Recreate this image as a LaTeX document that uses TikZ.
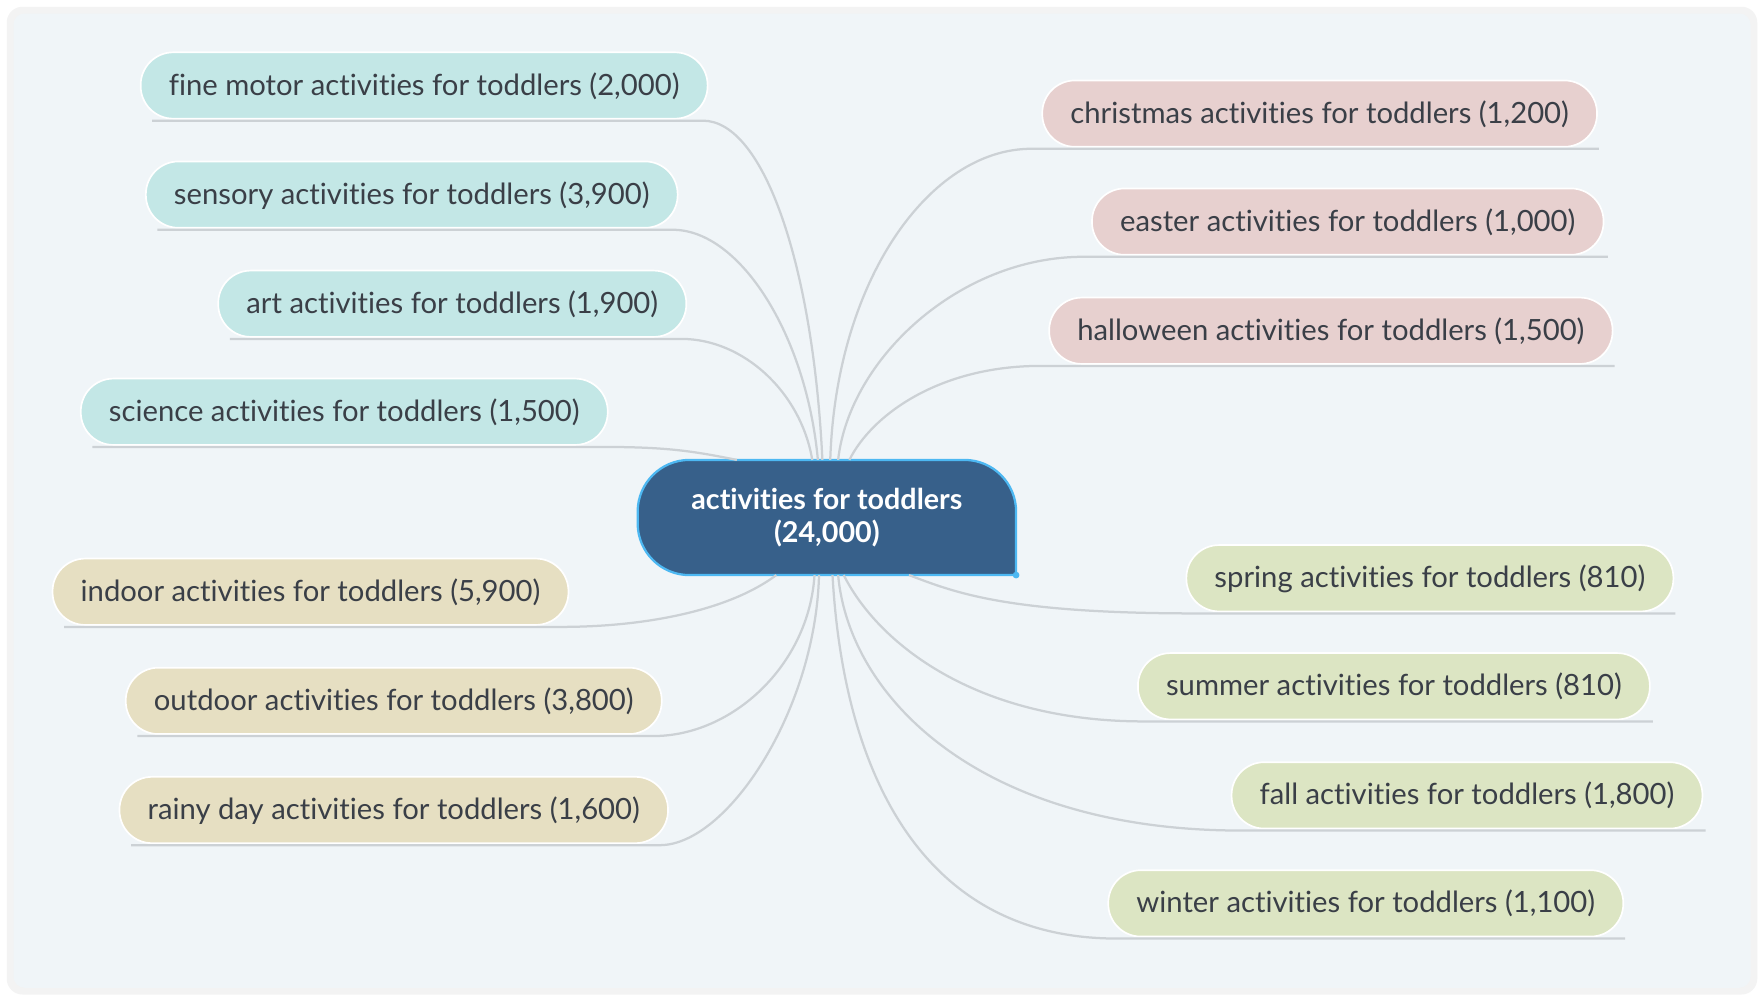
\documentclass[tikz,border=0pt]{standalone}
\usepackage{fontspec}
\setmainfont{Lato}[Ligatures={NoCommon,NoContextual}]
\usepackage{xcolor}
\usetikzlibrary{positioning,backgrounds}
\definecolor{panelbg}{RGB}{240,245,248}
\definecolor{shadowgrey}{RGB}{243,243,243}
\definecolor{tealpill}{RGB}{195,231,230}
\definecolor{pinkpill}{RGB}{231,208,207}
\definecolor{beigepill}{RGB}{230,223,194}
\definecolor{greenpill}{RGB}{220,229,195}
\definecolor{rootblue}{RGB}{55,96,138}
\definecolor{rootedge}{RGB}{77,184,242}
\definecolor{textgrey}{RGB}{58,63,71}
\definecolor{linegrey}{RGB}{204,209,213}
\tikzset{
  % branch pill
  pill/.style={
    draw=white,
    line width=1.5pt,
    rounded corners=29pt,
    minimum height=59pt,
    inner xsep=25pt,
    text height=21pt,
    text depth=4pt,
    font=\fontsize{26}{30}\selectfont,
    text=textgrey
  },
  % four colour groups
  teal/.style={pill, fill=tealpill},
  pink/.style={pill, fill=pinkpill},
  beige/.style={pill, fill=beigepill},
  green/.style={pill, fill=greenpill},
  % central topic
  root/.style={
    minimum width=336pt,
    minimum height=102pt,
    align=center,
    text=white,
    font=\fontsize{25.5}{30}\selectfont\bfseries
  },
  % connector
  link/.style={draw=linegrey, line width=2pt},
}

\begin{document}
\begin{tikzpicture}[x=1pt,y=-1pt]
  \useasboundingbox (0,0) rectangle (1568,894);
  \begin{scope}[on background layer]
    \fill[white] (0,0) rectangle (1568,894);
    \fill[shadowgrey, rounded corners=14pt] (6,6) rectangle (1562,884);
    \fill[panelbg, rounded corners=10pt] (12,12) rectangle (1556,878);
  \end{scope}

  % central topic
  \node[root] (root) at (735,460) {activities for toddlers\\(24,000)};
  \begin{scope}[on background layer]
    \path[fill=rootblue, draw=rootedge, line width=2pt, rounded corners=46pt]
      (root.south east) -- (root.north east) -- (root.north west)
      -- (root.south west) -- (root.south east);
    \fill[rootedge] (root.south east) circle (3pt);
  \end{scope}

  % left branches
  \node[teal] (fine) at (377,76) {fine motor activities for toddlers (2,000)};
  \node[teal] (sensory) at (366,173) {sensory activities for toddlers (3,900)};
  \node[teal] (art) at (402,270) {art activities for toddlers (1,900)};
  \node[teal] (science) at (306,366) {science activities for toddlers (1,500)};
  \node[beige] (indoor) at (276,526) {indoor activities for toddlers (5,900)};
  \node[beige] (outdoor) at (350,623) {outdoor activities for toddlers (3,800)};
  \node[beige] (rainy) at (350,720) {rainy day activities for toddlers (1,600)};

  % right branches
  \node[pink] (christmas) at (1173,101) {christmas activities for toddlers (1,200)};
  \node[pink] (easter) at (1198,197) {easter activities for toddlers (1,000)};
  \node[pink] (halloween) at (1183,294) {halloween activities for toddlers (1,500)};
  \node[green] (spring) at (1271,514) {spring activities for toddlers (810)};
  \node[green] (summer) at (1239,610) {summer activities for toddlers (810)};
  \node[green] (fall) at (1304,707) {fall activities for toddlers (1,800)};
  \node[green] (winter) at (1214,803) {winter activities for toddlers (1,100)};

  % connectors, left
  \draw[link] ([shift={(11,1)}]fine.south west) -- ([shift={(-5,1)}]fine.south east)
    .. controls +(55,0) and +(-8,-170) .. ([xshift=-4pt]root.north);
  \draw[link] ([shift={(11,1)}]sensory.south west) -- ([shift={(-5,1)}]sensory.south east)
    .. controls +(60,0) and +(-10,-110) .. ([xshift=-8pt]root.north);
  \draw[link] ([shift={(11,1)}]art.south west) -- ([shift={(-5,1)}]art.south east)
    .. controls +(55,0) and +(-10,-60) .. ([xshift=-13pt]root.north);
  \draw[link] ([shift={(11,1)}]science.south west) -- ([shift={(-8,1)}]science.south east)
    .. controls +(60,0) and +(-40,-8) .. ([xshift=-80pt]root.north);
  \draw[link] ([shift={(11,1)}]indoor.south west) -- ([shift={(-8,1)}]indoor.south east)
    .. controls +(80,0) and +(-40,30) .. ([xshift=-45pt]root.south);
  \draw[link] ([shift={(11,1)}]outdoor.south west) -- ([shift={(-8,1)}]outdoor.south east)
    .. controls +(70,0) and +(-5,80) .. ([xshift=-11pt]root.south);
  \draw[link] ([shift={(11,1)}]rainy.south west) -- ([shift={(-8,1)}]rainy.south east)
    .. controls +(60,0) and +(-3,120) .. ([xshift=-7pt]root.south);

  % connectors, right
  \draw[link] ([shift={(1,1)}]christmas.south east) -- ([shift={(-9,1)}]christmas.south west)
    .. controls +(-90,0) and +(5,-160) .. ([xshift=3pt]root.north);
  \draw[link] ([shift={(3,1)}]easter.south east) -- ([shift={(-7,1)}]easter.south west)
    .. controls +(-110,0) and +(10,-90) .. ([xshift=10pt]root.north);
  \draw[link] ([shift={(1,1)}]halloween.south east) -- ([shift={(-7,1)}]halloween.south west)
    .. controls +(-90,0) and +(20,-40) .. ([xshift=20pt]root.north);
  \draw[link] ([shift={(1,1)}]spring.south east) -- ([shift={(9,1)}]spring.south west)
    .. controls +(-170,0) and +(40,15) .. ([xshift=73pt]root.south);
  \draw[link] ([shift={(2,1)}]summer.south east) -- ([shift={(6,1)}]summer.south west)
    .. controls +(-150,0) and +(30,60) .. ([xshift=15pt]root.south);
  \draw[link] ([shift={(2,1)}]fall.south east) -- ([shift={(9,1)}]fall.south west)
    .. controls +(-230,0) and +(10,110) .. ([xshift=10pt]root.south);
  \draw[link] ([shift={(1,1)}]winter.south east) -- ([shift={(8,1)}]winter.south west)
    .. controls +(-170,0) and +(10,180) .. ([xshift=5pt]root.south);
\end{tikzpicture}
\end{document}
